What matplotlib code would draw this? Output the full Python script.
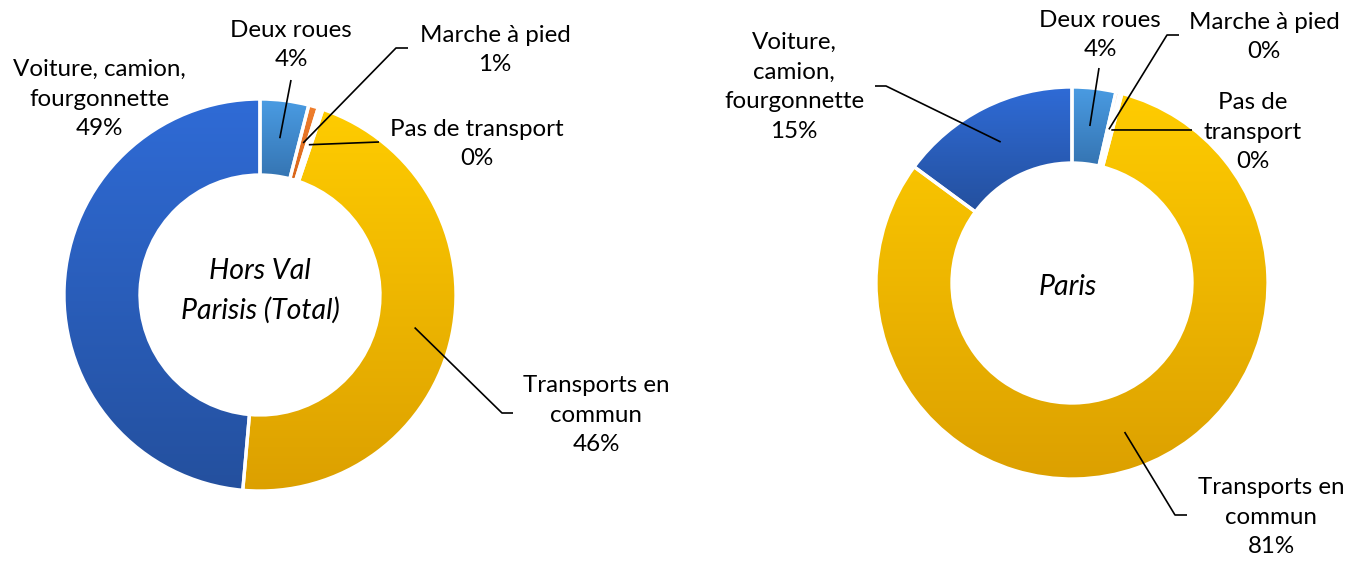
import matplotlib.pyplot as plt
import matplotlib.colors as mcolors
import numpy as np
from matplotlib.patches import PathPatch


W, H = 1358, 561
OUTPUT_PNG = "out.png"

FONT = "Lato"
FONT_SIZE = 17.4
LINE_SPACING = 1.52
CENTER_SIZE = 20.5
CENTER_SPACING = 1.6

RADIUS = 196
RING = 76
EDGE_LW = 2.4

# clockwise from 12 o'clock
CATEGORIES = [
    "Deux roues",
    "Marche à pied",
    "Pas de transport",
    "Transports en commun",
    "Voiture, camion, fourgonnette",
]
HORS_VAL = [4.0, 0.8, 0.4, 46.2, 48.6]
PARIS = [3.6, 0.3, 0.2, 81.0, 14.9]

HORS_VAL_LABELS = [
    "Deux roues",
    "Marche à pied",
    "Pas de transport",
    "Transports en\ncommun",
    "Voiture, camion,\nfourgonnette",
]
PARIS_LABELS = [
    "Deux roues",
    "Marche à pied",
    "Pas de\ntransport",
    "Transports en\ncommun",
    "Voiture,\ncamion,\nfourgonnette",
]

# top / bottom of the vertical gradient of each slice
GRADIENTS = [
    ("#4A9CE3", "#3574B2"),
    ("#F07F2E", "#D9661A"),
    ("#FFFFFF", "#FFFFFF"),
    ("#FFCC00", "#DCA000"),
    ("#2F6BD6", "#24509E"),
]


def px(x, y):
    # picture pixels (y down) -> data coords (y up)
    return x, H - y


def draw_donut(ax, values, center):
    cx, cy = px(*center)
    wedges, _ = ax.pie(
        values,
        center=(cx, cy),
        radius=RADIUS,
        startangle=90,
        counterclock=False,
        wedgeprops=dict(width=RING, edgecolor="none"),
    )

    ramp = np.linspace(0.0, 1.0, 256)[:, None, None]
    for wedge, (top, bottom) in zip(wedges, GRADIENTS):
        c0 = np.array(mcolors.to_rgb(top))
        c1 = np.array(mcolors.to_rgb(bottom))
        bb = wedge.get_path().get_extents()
        im = ax.imshow(
            c0 + (c1 - c0) * ramp,
            extent=(bb.x0, bb.x1, bb.y0, bb.y1),
            origin="upper",
            aspect="auto",
            interpolation="bilinear",
            zorder=2,
        )
        im.set_clip_path(wedge)
        ax.add_patch(
            PathPatch(
                wedge.get_path(),
                facecolor="none",
                edgecolor="white",
                linewidth=EDGE_LW,
                zorder=3,
            )
        )
    return wedges


def leader(ax, wedge, center, end, elbow=None):
    cx, cy = px(*center)
    mid = np.radians((wedge.theta1 + wedge.theta2) / 2)
    r = RADIUS - RING / 2
    xs = [cx + r * np.cos(mid), end[0]]
    ys = [cy + r * np.sin(mid), H - end[1]]
    if elbow is not None:
        xs.append(elbow)
        ys.append(H - end[1])
    ax.plot(xs, ys, color="black", linewidth=1.2, zorder=4,
            solid_capstyle="butt")


def label(ax, pos, text, size=FONT_SIZE, spacing=LINE_SPACING, style="normal"):
    x, y = px(*pos)
    ax.text(
        x, y, text,
        ha="center", va="center",
        fontsize=size, family=FONT, style=style,
        linespacing=spacing, zorder=5,
    )


def main():
    fig = plt.figure(figsize=(W / 100, H / 100), dpi=100)
    ax = fig.add_axes([0, 0, 1, 1])

    # left donut: Hors Val Parisis
    c_left = (260, 295)
    wl = draw_donut(ax, HORS_VAL, c_left)
    pct = [f"{v:.0f}%" for v in HORS_VAL]
    leader(ax, wl[0], c_left, (291, 80))
    leader(ax, wl[1], c_left, (396, 48), elbow=408)
    leader(ax, wl[2], c_left, (379, 142))
    leader(ax, wl[3], c_left, (502, 413), elbow=513)
    label(ax, (291, 45), f"{HORS_VAL_LABELS[0]}\n{pct[0]}")
    label(ax, (495, 50), f"{HORS_VAL_LABELS[1]}\n{pct[1]}")
    label(ax, (477, 144), f"{HORS_VAL_LABELS[2]}\n{pct[2]}")
    label(ax, (596, 415), f"{HORS_VAL_LABELS[3]}\n{pct[3]}")
    label(ax, (99, 99), f"{HORS_VAL_LABELS[4]}\n{pct[4]}")
    label(ax, (260, 291), "Hors Val\nParisis (Total)",
          size=CENTER_SIZE, spacing=CENTER_SPACING, style="italic")

    # right donut: Paris
    c_right = (1072, 283)
    wr = draw_donut(ax, PARIS, c_right)
    pct = [f"{v:.0f}%" for v in PARIS]
    leader(ax, wr[0], c_right, (1099, 68))
    leader(ax, wr[1], c_right, (1167, 35), elbow=1179)
    leader(ax, wr[2], c_right, (1192, 130))
    leader(ax, wr[3], c_right, (1175, 515), elbow=1187)
    leader(ax, wr[4], c_right, (886, 86), elbow=875)
    label(ax, (1100, 35), f"{PARIS_LABELS[0]}\n{pct[0]}")
    label(ax, (1264, 37), f"{PARIS_LABELS[1]}\n{pct[1]}")
    label(ax, (1253, 132), f"{PARIS_LABELS[2]}\n{pct[2]}")
    label(ax, (1271, 517), f"{PARIS_LABELS[3]}\n{pct[3]}")
    label(ax, (794, 87), f"{PARIS_LABELS[4]}\n{pct[4]}")
    label(ax, (1068, 287), "Paris",
          size=CENTER_SIZE, spacing=CENTER_SPACING, style="italic")

    ax.set_xlim(0, W)
    ax.set_ylim(0, H)
    ax.set_aspect("auto")
    ax.axis("off")

    fig.savefig(OUTPUT_PNG, dpi=100, facecolor="white")
    plt.close(fig)


if __name__ == "__main__":
    main()
